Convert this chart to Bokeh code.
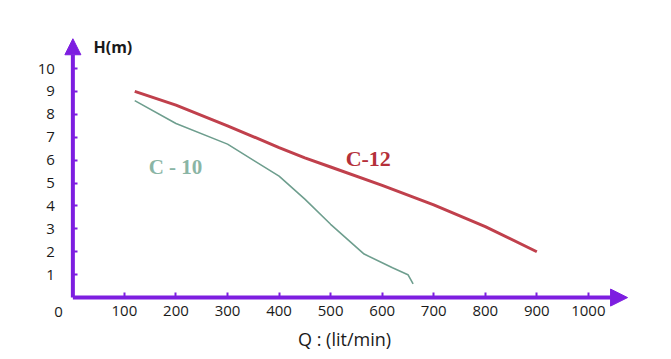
from bokeh.plotting import figure
from bokeh.models import Arrow, NormalHead, FixedTicker, LinearAxis
from bokeh.core.properties import value
from bokeh.embed import file_html
from bokeh.resources import INLINE

# Data
c12_q = [120, 200, 300, 400, 450, 500, 600, 700, 800, 900]
c12_h = [9.0, 8.4, 7.5, 6.55, 6.1, 5.7, 4.9, 4.05, 3.1, 2.0]
c10_q = [120, 200, 300, 400, 450, 500, 565, 620, 650, 660]
c10_h = [8.6, 7.6, 6.7, 5.3, 4.3, 3.2, 1.9, 1.3, 1.0, 0.6]

x_ticks = [100, 200, 300, 400, 500, 600, 700, 800, 900, 1000]
y_ticks = [1, 2, 3, 4, 5, 6, 7, 8, 9, 10]

PURPLE = "#7d1ee0"

p = figure(width=655, height=350, x_range=(-140.4, 1130.2), y_range=(-2.31, 12.97),
           output_backend="svg", toolbar_location=None, min_border=0,
           x_axis_type=None, y_axis_type=None)
p.outline_line_color = None
p.xgrid.visible = False
p.ygrid.visible = False

# Axes arrows
p.add_layout(Arrow(end=NormalHead(size=16, fill_color=PURPLE, line_color=PURPLE),
                   x_start=0, y_start=0, x_end=0, y_end=11.3,
                   line_color=PURPLE, line_width=4))
p.add_layout(Arrow(end=NormalHead(size=17, fill_color=PURPLE, line_color=PURPLE),
                   x_start=0, y_start=0, x_end=1076, y_end=0,
                   line_color=PURPLE, line_width=4))

xa = LinearAxis(ticker=FixedTicker(ticks=x_ticks), fixed_location=0)
ya = LinearAxis(ticker=FixedTicker(ticks=y_ticks), fixed_location=0)
for ax in (xa, ya):
    ax.axis_line_color = None
    ax.major_tick_in = 5
    ax.major_tick_out = 0
    ax.minor_tick_in = 0
    ax.minor_tick_out = 0
    ax.major_tick_line_color = PURPLE
    ax.major_tick_line_width = 2
    ax.major_label_text_font = "Open Sans"
    ax.major_label_text_font_size = "15px"
    ax.major_label_text_color = "#1a1a1a"
xa.major_label_standoff = 8
ya.major_label_standoff = 18
p.add_layout(xa, "below")
p.add_layout(ya, "left")

# Curves
p.line(c12_q, c12_h, line_color="#c0404c", line_width=3)
p.line(c10_q, c10_h, line_color="#6e9e8e", line_width=1.6)

# Texts
p.text(x=[-28], y=[-0.65], text=["0"], text_font=value("Open Sans"), text_font_size="15px",
       text_color="#1a1a1a", text_align="center", text_baseline="middle")
p.text(x=[40], y=[10.96], text=["H(m)"], text_font=value("Open Sans"), text_font_size="16px",
       text_font_style="bold", text_color="#1a1a1a", text_align="left", text_baseline="middle")
p.text(x=[527], y=[-1.79], text=["Q : (lit/min)"], text_font=value("Open Sans"), text_font_size="18px",
       text_color="#1a1a1a", text_align="center", text_baseline="middle")
p.text(x=[199], y=[5.68], text=["C - 10"], text_font=value("Liberation Serif"), text_font_size="21px",
       text_font_style="bold", text_color="#8ab5a5", text_align="center", text_baseline="middle")
p.text(x=[573], y=[6.07], text=["C-12"], text_font=value("Liberation Serif"), text_font_size="22px",
       text_font_style="bold", text_color="#b5303a", text_align="center", text_baseline="middle")

open("out.html", "w").write(file_html(p, INLINE))
